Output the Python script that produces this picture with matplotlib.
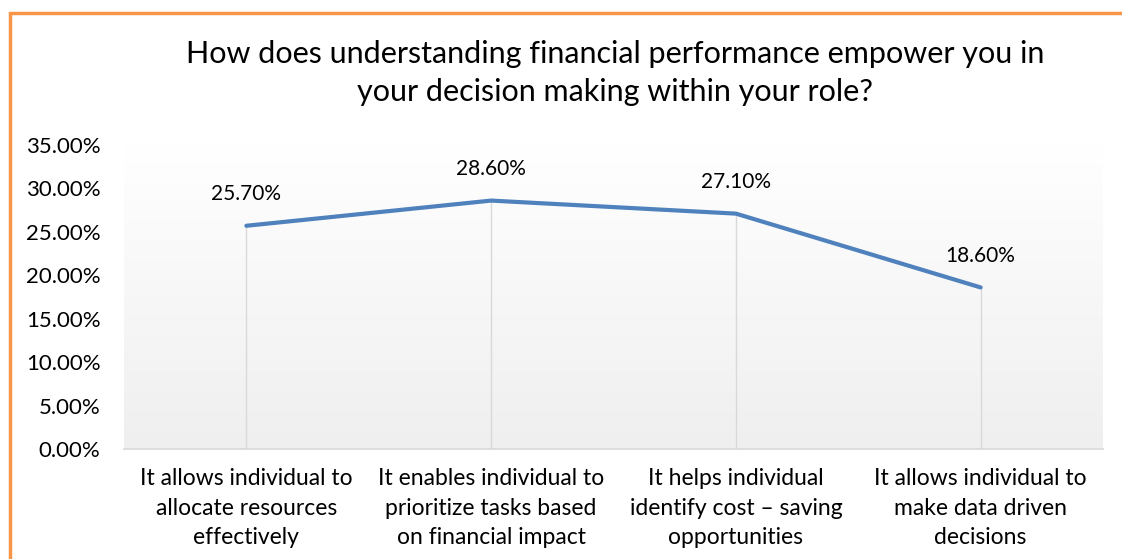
import numpy as np
import matplotlib.pyplot as plt
from matplotlib.patches import Rectangle
from matplotlib.colors import LinearSegmentedColormap
from matplotlib.ticker import PercentFormatter

categories = [
    "It allows individual to\nallocate resources\neffectively",
    "It enables individual to\nprioritize tasks based\non financial impact",
    "It helps individual\nidentify cost \u2013 saving\nopportunities",
    "It allows individual to\nmake data driven\ndecisions",
]
values = [25.7, 28.6, 27.1, 18.6]
yticks = [0, 5, 10, 15, 20, 25, 30, 35]
title = ("How does understanding financial performance empower you in\n"
         "your decision making within your role?")

plt.rcParams['font.family'] = ['Lato', 'DejaVu Sans']

fig = plt.figure(figsize=(11.22, 5.59), dpi=100)
ax = fig.add_axes([124 / 1122, 1 - 449 / 559, (1103 - 124) / 1122, (449 - 145) / 559])

# orange frame, partly cut off by the image edge
fig.patches.append(Rectangle((10 / 1122, -0.05), 1.2, 1 - 13 / 559 + 0.05,
                             transform=fig.transFigure, fill=False,
                             edgecolor='#F79646', linewidth=2.5))

x = np.arange(len(categories))
ax.set_xlim(-0.5, len(categories) - 0.5)
ax.set_ylim(0, 35)

# plot area gradient
grad = np.linspace(1.0, 0.0, 256).reshape(-1, 1)
ax.imshow(grad, extent=[-0.5, len(categories) - 0.5, 0, 35], aspect='auto',
          cmap=LinearSegmentedColormap.from_list('g', ['#EFEFEF', '#FFFFFF']),
          vmin=0, vmax=1, zorder=0)

ax.vlines(x, 0, values, color='#D9D9D9', linewidth=1, zorder=1)
ax.plot(x, values, color='#4F81BD', linewidth=3, solid_capstyle='round', zorder=3)

for xi, v in zip(x, values):
    ax.annotate(f"{v:.2f}%", (xi, v), xytext=(0, 23), textcoords='offset points',
                ha='center', va='center', fontsize=15, color='#000000')

for s in ['top', 'right', 'left']:
    ax.spines[s].set_visible(False)
ax.spines['bottom'].set_color('#D9D9D9')
ax.spines['bottom'].set_linewidth(1.2)

ax.set_yticks(yticks)
ax.yaxis.set_major_formatter(PercentFormatter(decimals=2))
ax.set_xticks(x)
ax.set_xticklabels(categories, fontsize=16.5, linespacing=1.5)
ax.tick_params(axis='y', length=0, pad=17, labelsize=16)
ax.tick_params(axis='x', length=0, pad=14)

fig.text(615 / 1122, 1 - 73 / 559, title, ha='center', va='center',
         fontsize=22, linespacing=1.42)

fig.savefig('out.png', dpi=100, facecolor='white')
